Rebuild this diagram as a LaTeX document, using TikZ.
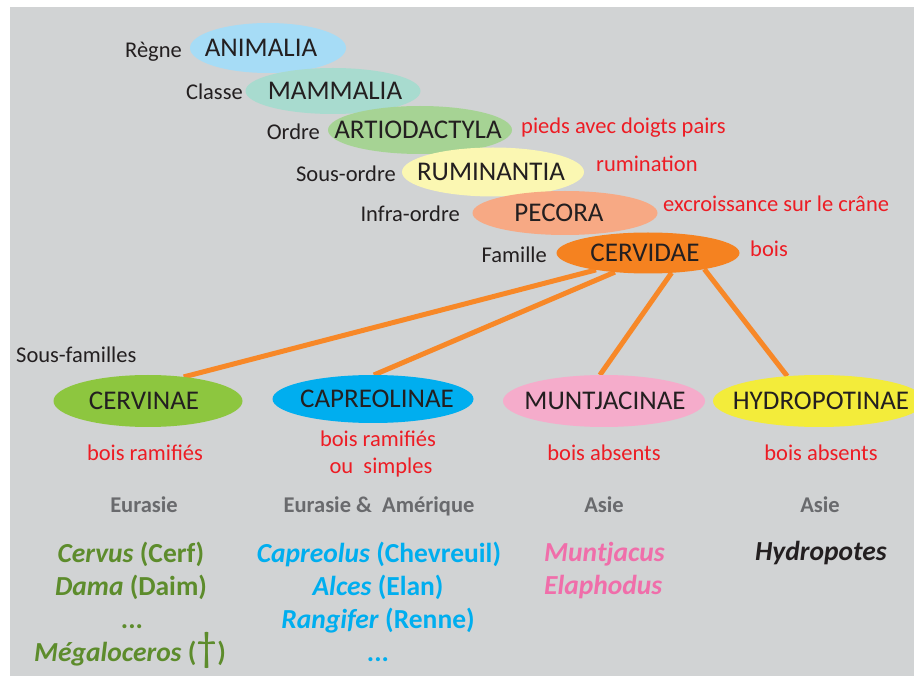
\documentclass[tikz,border=0pt]{standalone}
\usepackage{fontspec}
\setmainfont{Carlito}
\usetikzlibrary{shapes.geometric}
\pgfdeclarelayer{back}
\pgfdeclarelayer{links}
\pgfsetlayers{back,links,main}

\definecolor{bggray}{RGB}{209,211,212}
\definecolor{cAnim}{RGB}{166,220,246}
\definecolor{cMamm}{RGB}{168,219,207}
\definecolor{cArtio}{RGB}{166,211,148}
\definecolor{cRumin}{RGB}{251,247,178}
\definecolor{cPecora}{RGB}{247,169,132}
\definecolor{cCervid}{RGB}{245,130,32}
\definecolor{cCervin}{RGB}{141,198,63}
\definecolor{cCapreo}{RGB}{0,174,239}
\definecolor{cMuntj}{RGB}{245,172,203}
\definecolor{cHydro}{RGB}{243,236,58}
\definecolor{linkorange}{RGB}{247,136,40}
\definecolor{txtred}{RGB}{237,28,36}
\definecolor{txtdark}{RGB}{35,31,32}
\definecolor{regiongray}{RGB}{105,106,109}
\definecolor{spgreen}{RGB}{93,140,44}
\definecolor{spcyan}{RGB}{0,174,239}
\definecolor{sppink}{RGB}{240,110,170}

\tikzset{
  taxon/.style={ellipse, draw=none, inner sep=0pt, outer sep=0pt},
  taxtext/.style={font=\fontsize{27}{32}\selectfont, text=txtdark, inner sep=0pt},
  rank/.style={anchor=base east, font=\fontsize{22.5}{27}\selectfont, text=txtdark, inner sep=0pt},
  trait/.style={anchor=base west, font=\fontsize{22.5}{27}\selectfont, text=txtred, inner sep=0pt},
  traitc/.style={anchor=base, font=\fontsize{22.5}{27}\selectfont, text=txtred, inner sep=0pt},
  region/.style={anchor=base, font=\bfseries\fontsize{22.5}{27}\selectfont, text=regiongray, inner sep=0pt},
  species/.style={anchor=base, font=\bfseries\fontsize{27.5}{32}\selectfont, inner sep=0pt},
  link/.style={draw=linkorange, line width=5pt},
}

\begin{document}
\begin{tikzpicture}[x=1pt,y=-1pt]
\useasboundingbox (0,0) rectangle (914,676);
\begin{pgfonlayer}{back}
  \fill[bggray] (10,7) rectangle (914,676);
\end{pgfonlayer}

% upper hierarchy
\node[taxon, fill=cAnim, minimum width=156pt, minimum height=50pt,
      label={[taxtext, xshift=-7pt]center:ANIMALIA}] (animalia) at (268,48) {};
\node[taxon, fill=cMamm, minimum width=175pt, minimum height=46pt,
      label={[taxtext, xshift=2pt]center:MAMMALIA}] (mammalia) at (333,91) {};
\node[taxon, fill=cArtio, minimum width=184pt, minimum height=48pt,
      label={[taxtext, xshift=-2pt]center:ARTIODACTYLA}] (artio) at (420,130) {};
\node[taxon, fill=cRumin, minimum width=182pt, minimum height=49pt,
      label={[taxtext, xshift=-2pt]center:RUMINANTIA}] (rumin) at (493,172) {};
\node[taxon, fill=cPecora, minimum width=185pt, minimum height=44pt,
      label={[taxtext, xshift=-6pt]center:PECORA}] (pecora) at (565,213) {};
\node[taxon, fill=cCervid, minimum width=183pt, minimum height=41pt,
      label={[taxtext, xshift=-3pt]center:CERVIDAE}] (cervidae) at (648,253) {};

% rank labels
\node[rank] (lregne) at (182,58) {Règne};
\node[rank] (lclasse) at (243,100) {Classe};
\node[rank] (lordre) at (320,140) {Ordre};
\node[rank] (lsousordre) at (396,182) {Sous-ordre};
\node[rank] (linfra) at (460,222) {Infra-ordre};
\node[rank] (lfamille) at (547,263) {Famille};
\node[anchor=base west, font=\fontsize{22.5}{27}\selectfont, text=txtdark, inner sep=0pt]
      (lsousfam) at (16,363) {Sous-familles};

% traits
\node[trait] (tpieds) at (521,134) {pieds avec doigts pairs};
\node[trait] (trumin) at (596,172) {rumination};
\node[trait] (texcr) at (663,212) {excroissance sur le crâne};
\node[trait] (tbois) at (750,257) {bois};

% subfamilies
\node[taxon, fill=cCervin, minimum width=189pt, minimum height=52pt,
      label={[taxtext, xshift=-4pt]center:CERVINAE}] (cervinae) at (148,401) {};
\node[taxon, fill=cCapreo, minimum width=201pt, minimum height=48pt,
      label={[taxtext, xshift=4pt]center:CAPREOLINAE}] (capreo) at (373,399) {};
\node[taxon, fill=cMuntj, minimum width=202pt, minimum height=52pt,
      label={[taxtext, xshift=1pt]center:MUNTJACINAE}] (muntj) at (604,401) {};
\node[taxon, fill=cHydro, minimum width=212pt, minimum height=52pt,
      label={[taxtext, xshift=2pt]center:HYDROPOTINAE}] (hydro) at (819,401) {};

% connectors
\begin{pgfonlayer}{links}
  \draw[link] (cervidae.198) -- (cervinae.34);
  \draw[link] (cervidae.210) -- (capreo.88);
  \draw[link] (cervidae.320) -- (muntj.99);
  \draw[link] (cervidae.344) -- (hydro.142);
\end{pgfonlayer}

% subfamily traits
\node[traitc] (tcervin) at (145,461) {bois ramifiés};
\node[traitc] (tcapreoA) at (378,447) {bois ramifiés};
\node[traitc] (tcapreoB) at (381,474) {ou\ \ simples};
\node[traitc] (tmuntj) at (604,461) {bois absents};
\node[traitc] (thydro) at (821,461) {bois absents};

% regions
\node[region] (rcervin) at (144,513) {Eurasie};
\node[region] (rcapreo) at (379,513) {Eurasie \&\ \ Amérique};
\node[region] (rmuntj) at (604,513) {Asie};
\node[region] (rhydro) at (820,513) {Asie};

% genera
\node[species, text=spgreen] (gcervus) at (131,562) {\textit{Cervus} (Cerf)};
\node[species, text=spgreen] (gdama) at (131,595) {\textit{Dama} (Daim)};
\node[species, text=spgreen] (gdotsA) at (132,628) {...};
\node[species, text=spgreen] (gmega) at (130,661)
      {\textit{Mégaloceros} ({\mdseries\fontsize{42}{42}\selectfont †})};

\node[species, text=spcyan] (gcapreo) at (379,562) {\textit{Capreolus} (Chevreuil)};
\node[species, text=spcyan] (galces) at (378,595) {\textit{Alces} (Elan)};
\node[species, text=spcyan] (grangi) at (378,628) {\textit{Rangifer} (Renne)};
\node[species, text=spcyan] (gdotsB) at (378,661) {...};

\node[species, anchor=base west, text=sppink] (gmuntj) at (544,561) {\textit{Muntjacus}};
\node[species, anchor=base west, text=sppink] (gelaph) at (544,594) {\textit{Elaphodus}};

\node[species, text=txtdark] (ghydro) at (821,560) {\textit{Hydropotes}};
\end{tikzpicture}
\end{document}
